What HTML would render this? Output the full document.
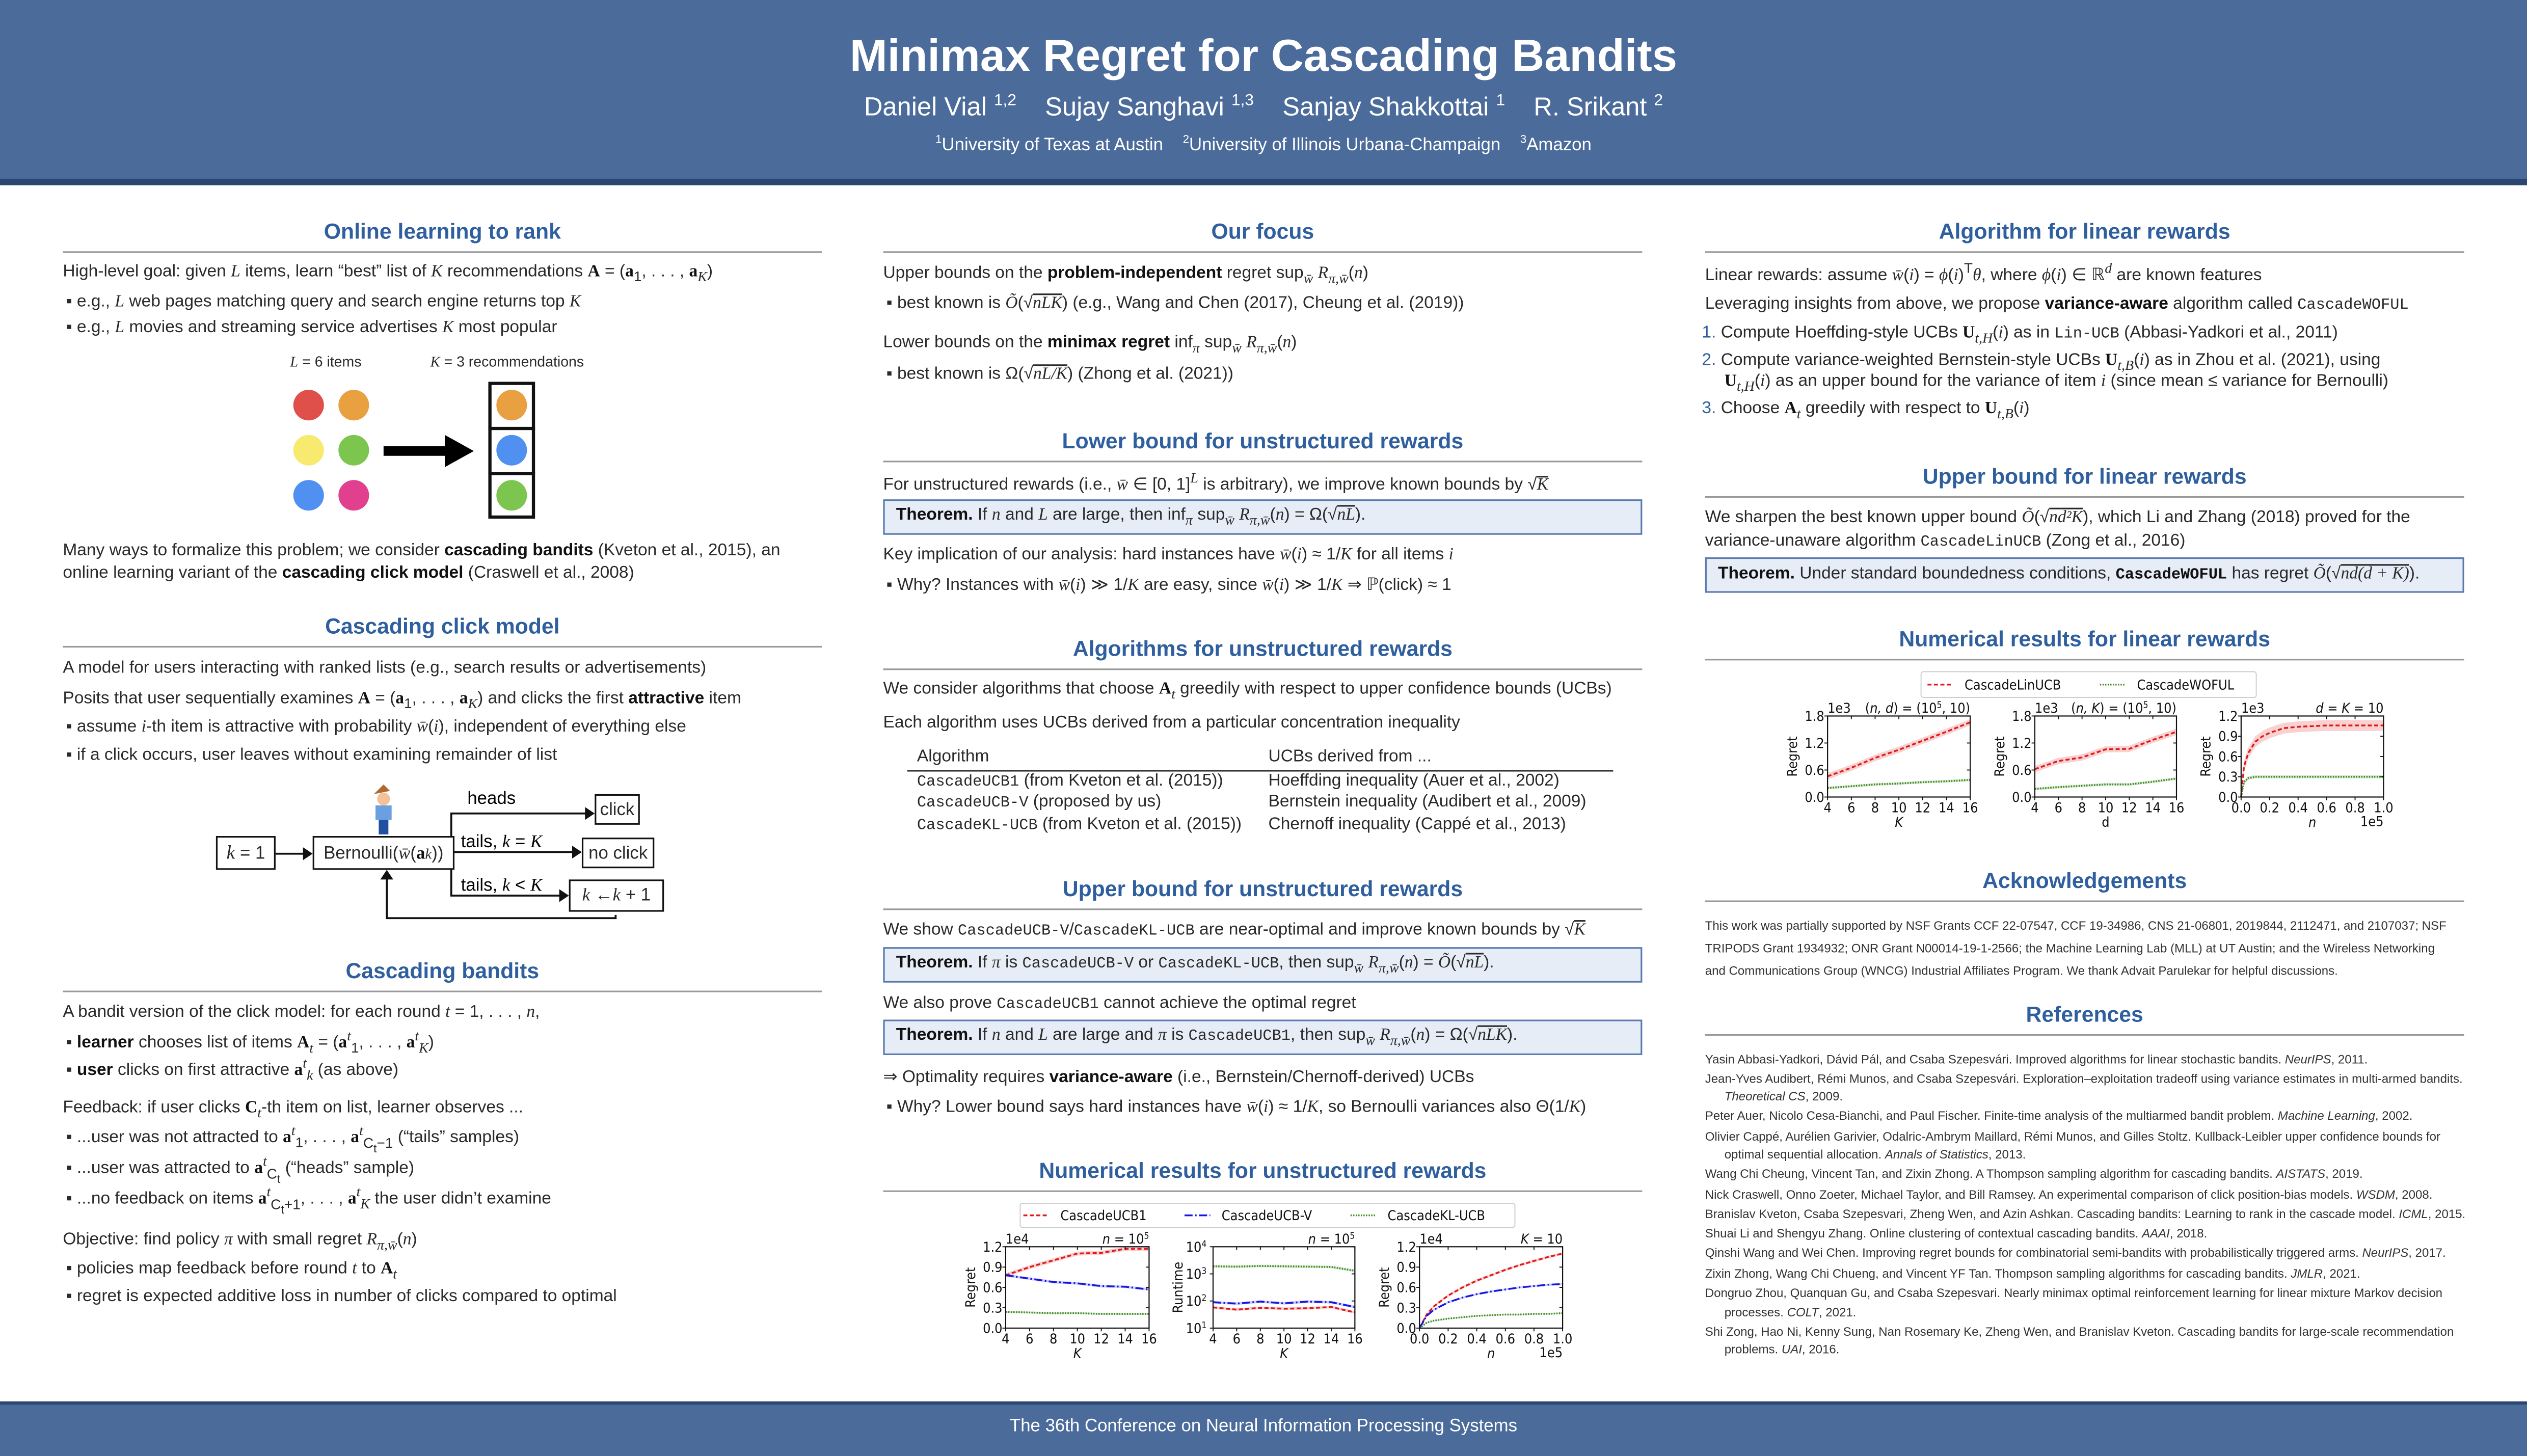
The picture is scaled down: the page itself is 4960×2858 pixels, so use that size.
<!DOCTYPE html>
<html><head><meta charset="utf-8">
<style>
html,body{margin:0;padding:0;width:4960px;height:2852px;overflow:hidden;background:#fff}
#poster{position:absolute;left:0;top:0;width:1568px;height:902px;transform:scale(3.16327,3.16186);transform-origin:0 0;background:#fff;font-family:"Liberation Sans","DejaVu Sans",sans-serif;color:#2a2a2a}
.t{position:absolute;white-space:nowrap;line-height:1;transform:translateY(-50%);font-size:10.6px}
.h{position:absolute;font-weight:bold;color:#2f5f9e;font-size:13.5px;text-align:center;line-height:1;transform:translateY(-50%)}
.rule{position:absolute;height:1px;background:#999}
.m{font-family:"Liberation Serif",serif;font-style:italic}
.mr{font-family:"Liberation Serif",serif}
.tt{font-family:"Liberation Mono",monospace;font-size:9.6px}
b{font-weight:bold;color:#111}
.box{position:absolute;background:#e7edf7;border:1px solid #5a7bb0;box-sizing:border-box}
.sm{font-size:7.6px;color:#333}
.circ{position:absolute;width:19px;height:19px;border-radius:50%}
.db{position:absolute;border:1.3px solid #111;box-sizing:border-box;background:#fff;font-size:11px;display:flex;align-items:center;justify-content:center;white-space:nowrap}
</style></head><body>
<div id="poster">
<!-- header -->
<div style="position:absolute;left:0;top:0;width:1568px;height:112px;background:#4b6b9b"></div>
<div style="position:absolute;left:0;top:111px;width:1568px;height:4px;background:#2c4672"></div>
<div class="t" style="left:0;width:1568px;text-align:center;top:35px;font-size:28px;font-weight:bold;color:#fff">Minimax Regret for Cascading Bandits</div>
<div class="t" style="left:0;width:1568px;text-align:center;top:67px;font-size:16px;color:#fff">Daniel Vial <sup style="font-size:10px">1,2</sup> &nbsp;&nbsp; Sujay Sanghavi <sup style="font-size:10px">1,3</sup> &nbsp;&nbsp; Sanjay Shakkottai <sup style="font-size:10px">1</sup> &nbsp;&nbsp; R. Srikant <sup style="font-size:10px">2</sup></div>
<div class="t" style="left:0;width:1568px;text-align:center;top:90px;font-size:11px;color:#fff"><sup style="font-size:7px">1</sup>University of Texas at Austin &nbsp;&nbsp; <sup style="font-size:7px">2</sup>University of Illinois Urbana-Champaign &nbsp;&nbsp; <sup style="font-size:7px">3</sup>Amazon</div>
<!-- footer -->
<div style="position:absolute;left:0;top:870px;width:1568px;height:32px;background:#4b6b9b;border-top:2px solid #2c4672"></div>
<div class="t" style="left:0;width:1568px;text-align:center;top:886px;font-size:11px;color:#fff">The 36th Conference on Neural Information Processing Systems</div>

<!-- LEFT COLUMN -->
<div class="h" style="left:39px;width:471px;top:144px">Online learning to rank</div>
<div class="rule" style="left:39px;width:471px;top:156px"></div>
<div class="t" style="left:39px;top:170px">High-level goal: given <span class="m">L</span> items, learn “best” list of <span class="m">K</span> recommendations <b class="mr">A</b> = (<b class="mr">a</b><sub>1</sub>, . . . , <b class="mr">a</b><sub class="m">K</sub>)</div>
<div class="t" style="left:41px;top:188px">▪ e.g., <span class="m">L</span> web pages matching query and search engine returns top <span class="m">K</span></div>
<div class="t" style="left:41px;top:204px">▪ e.g., <span class="m">L</span> movies and streaming service advertises <span class="m">K</span> most popular</div>
<div class="t" style="left:180px;top:225px;font-size:9px"><span class="m">L</span> = 6 items</div>
<div class="t" style="left:267px;top:225px;font-size:9px"><span class="m">K</span> = 3 recommendations</div>
<div class="circ" style="left:182px;top:242px;background:#e0504a"></div>
<div class="circ" style="left:210px;top:242px;background:#e8a040"></div>
<div class="circ" style="left:182px;top:270px;background:#f7ea6e"></div>
<div class="circ" style="left:210px;top:270px;background:#7cc650"></div>
<div class="circ" style="left:182px;top:298px;background:#5090f0"></div>
<div class="circ" style="left:210px;top:298px;background:#e0408e"></div>
<svg style="position:absolute;left:236px;top:268px" width="60" height="24"><line x1="2" y1="12" x2="42" y2="12" stroke="#000" stroke-width="6"/><polygon points="40,2 58,12 40,22" fill="#000"/></svg>
<div style="position:absolute;left:303px;top:237px;width:29px;height:85px;border:2px solid #111;box-sizing:border-box"></div>
<div class="rule" style="left:303px;width:29px;top:265px;background:#111;height:2px"></div>
<div class="rule" style="left:303px;width:29px;top:293px;background:#111;height:2px"></div>
<div class="circ" style="left:308px;top:242px;background:#e8a040"></div>
<div class="circ" style="left:308px;top:270px;background:#5090f0"></div>
<div class="circ" style="left:308px;top:298px;background:#7cc650"></div>
<div class="t" style="left:39px;top:342px">Many ways to formalize this problem; we consider <b>cascading bandits</b> (Kveton et al., 2015), an</div>
<div class="t" style="left:39px;top:356px">online learning variant of the <b>cascading click model</b> (Craswell et al., 2008)</div>

<div class="h" style="left:39px;width:471px;top:389px">Cascading click model</div>
<div class="rule" style="left:39px;width:471px;top:401px"></div>
<div class="t" style="left:39px;top:415px">A model for users interacting with ranked lists (e.g., search results or advertisements)</div>
<div class="t" style="left:39px;top:435px">Posits that user sequentially examines <b class="mr">A</b> = (<b class="mr">a</b><sub>1</sub>, . . . , <b class="mr">a</b><sub class="m">K</sub>) and clicks the first <b>attractive</b> item</div>
<div class="t" style="left:41px;top:452px">▪ assume <span class="m">i</span>-th item is attractive with probability <span class="m">w̄</span>(<span class="m">i</span>), independent of everything else</div>
<div class="t" style="left:41px;top:469px">▪ if a click occurs, user leaves without examining remainder of list</div>
<!-- diagram -->
<svg style="position:absolute;left:120px;top:480px" width="310" height="100">
<g stroke="#111" stroke-width="1.2" fill="none">
<line x1="51" y1="50" x2="72" y2="50"/><line x1="160" y1="49" x2="238" y2="49"/>
<polyline points="160,39 160,25 244,25"/><polyline points="160,60 160,76 230,76"/>
<polyline points="262,88 262,90 120,90 120,63"/>
</g>
<g fill="#111"><polygon points="74,50 68,46 68,54"/><polygon points="241,49 235,45 235,53"/><polygon points="249,25 243,21 243,29"/><polygon points="233,76 227,72 227,80"/><polygon points="120,60 116,66 124,66"/></g>
<g><circle cx="118" cy="16" r="4" fill="#f3c29a"/><rect x="113" y="20" width="10" height="9" fill="#6aa0e0"/><rect x="115" y="29" width="6" height="9" fill="#2050a0"/><path d="M112 13 l6 -6 l4 4z" fill="#b06a30"/></g>
<text x="170" y="19" font-size="11" font-family="Liberation Sans">heads</text>
<text x="166" y="46" font-size="11" font-family="Liberation Sans">tails, <tspan font-family="Liberation Serif" font-style="italic">k</tspan> = <tspan font-family="Liberation Serif" font-style="italic">K</tspan></text>
<text x="166" y="73" font-size="11" font-family="Liberation Sans">tails, <tspan font-family="Liberation Serif" font-style="italic">k</tspan> &lt; <tspan font-family="Liberation Serif" font-style="italic">K</tspan></text>
</svg>
<div class="db" style="left:134px;top:519px;width:37px;height:21px"><span class="m" style="font-size:12px">k</span>&nbsp;= 1</div>
<div class="db" style="left:194px;top:519px;width:88px;height:21px">Bernoulli(<span class="m">w̄</span>(<b class="mr">a</b><sub class="m">k</sub>))</div>
<div class="db" style="left:369px;top:493px;width:28px;height:19px">click</div>
<div class="db" style="left:361px;top:520px;width:45px;height:19px">no click</div>
<div class="db" style="left:353px;top:546px;width:59px;height:20px"><span class="m">k</span>&nbsp;← <span class="m">k</span>&nbsp;+ 1</div>

<div class="h" style="left:39px;width:471px;top:603px">Cascading bandits</div>
<div class="rule" style="left:39px;width:471px;top:615px"></div>
<div class="t" style="left:39px;top:629px">A bandit version of the click model: for each round <span class="m">t</span> = 1, . . . , <span class="m">n</span>,</div>
<div class="t" style="left:41px;top:647px">▪ <b>learner</b> chooses list of items <b class="mr">A</b><sub class="m">t</sub> = (<b class="mr">a</b><sup class="m">t</sup><sub>1</sub>, . . . , <b class="mr">a</b><sup class="m">t</sup><sub class="m">K</sub>)</div>
<div class="t" style="left:41px;top:664px">▪ <b>user</b> clicks on first attractive <b class="mr">a</b><sup class="m">t</sup><sub class="m">k</sub> (as above)</div>
<div class="t" style="left:39px;top:689px">Feedback: if user clicks <b class="mr">C</b><sub class="m">t</sub>-th item on list, learner observes ...</div>
<div class="t" style="left:41px;top:707px">▪ ...user was not attracted to <b class="mr">a</b><sup class="m">t</sup><sub>1</sub>, . . . , <b class="mr">a</b><sup class="m">t</sup><sub>C<sub>t</sub>−1</sub> (“tails” samples)</div>
<div class="t" style="left:41px;top:726px">▪ ...user was attracted to <b class="mr">a</b><sup class="m">t</sup><sub>C<sub>t</sub></sub> (“heads” sample)</div>
<div class="t" style="left:41px;top:745px">▪ ...no feedback on items <b class="mr">a</b><sup class="m">t</sup><sub>C<sub>t</sub>+1</sub>, . . . , <b class="mr">a</b><sup class="m">t</sup><sub class="m">K</sub> the user didn’t examine</div>
<div class="t" style="left:39px;top:771px">Objective: find policy <span class="m">π</span> with small regret <span class="m">R</span><sub class="m">π,w̄</sub>(<span class="m">n</span>)</div>
<div class="t" style="left:41px;top:789px">▪ policies map feedback before round <span class="m">t</span> to <b class="mr">A</b><sub class="m">t</sub></div>
<div class="t" style="left:41px;top:805px">▪ regret is expected additive loss in number of clicks compared to optimal</div>

<!-- MIDDLE COLUMN -->
<div class="h" style="left:548px;width:471px;top:144px">Our focus</div>
<div class="rule" style="left:548px;width:471px;top:156px"></div>
<div class="t" style="left:548px;top:171px">Upper bounds on the <b>problem-independent</b> regret sup<sub class="m">w̄</sub> <span class="m">R</span><sub class="m">π,w̄</sub>(<span class="m">n</span>)</div>
<div class="t" style="left:550px;top:189px">▪ best known is <span class="m">Õ</span>(√<span class="m" style="text-decoration:overline">nLK</span>) (e.g., Wang and Chen (2017), Cheung et al. (2019))</div>
<div class="t" style="left:548px;top:214px">Lower bounds on the <b>minimax regret</b> inf<sub class="m">π</sub> sup<sub class="m">w̄</sub> <span class="m">R</span><sub class="m">π,w̄</sub>(<span class="m">n</span>)</div>
<div class="t" style="left:550px;top:233px">▪ best known is Ω(√<span class="m" style="text-decoration:overline">nL/K</span>) (Zhong et al. (2021))</div>

<div class="h" style="left:548px;width:471px;top:274px">Lower bound for unstructured rewards</div>
<div class="rule" style="left:548px;width:471px;top:286px"></div>
<div class="t" style="left:548px;top:300px">For unstructured rewards (i.e., <span class="m">w̄</span> ∈ [0, 1]<sup class="m">L</sup> is arbitrary), we improve known bounds by √<span class="m" style="text-decoration:overline">K</span></div>
<div class="box" style="left:548px;top:310px;width:471px;height:22px"></div>
<div class="t" style="left:556px;top:321px"><b>Theorem.</b> If <span class="m">n</span> and <span class="m">L</span> are large, then inf<sub class="m">π</sub> sup<sub class="m">w̄</sub> <span class="m">R</span><sub class="m">π,w̄</sub>(<span class="m">n</span>) = Ω(√<span class="m" style="text-decoration:overline">nL</span>).</div>
<div class="t" style="left:548px;top:345px">Key implication of our analysis: hard instances have <span class="m">w̄</span>(<span class="m">i</span>) ≈ 1/<span class="m">K</span> for all items <span class="m">i</span></div>
<div class="t" style="left:550px;top:364px">▪ Why? Instances with <span class="m">w̄</span>(<span class="m">i</span>) ≫ 1/<span class="m">K</span> are easy, since <span class="m">w̄</span>(<span class="m">i</span>) ≫ 1/<span class="m">K</span> ⇒ ℙ(click) ≈ 1</div>

<div class="h" style="left:548px;width:471px;top:403px">Algorithms for unstructured rewards</div>
<div class="rule" style="left:548px;width:471px;top:415px"></div>
<div class="t" style="left:548px;top:429px">We consider algorithms that choose <b class="mr">A</b><sub class="m">t</sub> greedily with respect to upper confidence bounds (UCBs)</div>
<div class="t" style="left:548px;top:449px">Each algorithm uses UCBs derived from a particular concentration inequality</div>
<div class="t" style="left:569px;top:470px">Algorithm</div>
<div class="t" style="left:787px;top:470px">UCBs derived from ...</div>
<div class="rule" style="left:563px;width:438px;top:478px;background:#333"></div>
<div class="t" style="left:569px;top:485px"><span class="tt">CascadeUCB1</span> (from Kveton et al. (2015))</div>
<div class="t" style="left:787px;top:485px">Hoeffding inequality (Auer et al., 2002)</div>
<div class="t" style="left:569px;top:498px"><span class="tt">CascadeUCB-V</span> (proposed by us)</div>
<div class="t" style="left:787px;top:498px">Bernstein inequality (Audibert et al., 2009)</div>
<div class="t" style="left:569px;top:512px"><span class="tt">CascadeKL-UCB</span> (from Kveton et al. (2015))</div>
<div class="t" style="left:787px;top:512px">Chernoff inequality (Cappé et al., 2013)</div>

<div class="h" style="left:548px;width:471px;top:552px">Upper bound for unstructured rewards</div>
<div class="rule" style="left:548px;width:471px;top:564px"></div>
<div class="t" style="left:548px;top:578px">We show <span class="tt">CascadeUCB-V</span>/<span class="tt">CascadeKL-UCB</span> are near-optimal and improve known bounds by √<span class="m" style="text-decoration:overline">K</span></div>
<div class="box" style="left:548px;top:588px;width:471px;height:22px"></div>
<div class="t" style="left:556px;top:599px"><b>Theorem.</b> If <span class="m">π</span> is <span class="tt">CascadeUCB-V</span> or <span class="tt">CascadeKL-UCB</span>, then sup<sub class="m">w̄</sub> <span class="m">R</span><sub class="m">π,w̄</sub>(<span class="m">n</span>) = <span class="m">Õ</span>(√<span class="m" style="text-decoration:overline">nL</span>).</div>
<div class="t" style="left:548px;top:623px">We also prove <span class="tt">CascadeUCB1</span> cannot achieve the optimal regret</div>
<div class="box" style="left:548px;top:633px;width:471px;height:22px"></div>
<div class="t" style="left:556px;top:644px"><b>Theorem.</b> If <span class="m">n</span> and <span class="m">L</span> are large and <span class="m">π</span> is <span class="tt">CascadeUCB1</span>, then sup<sub class="m">w̄</sub> <span class="m">R</span><sub class="m">π,w̄</sub>(<span class="m">n</span>) = Ω(√<span class="m" style="text-decoration:overline">nLK</span>).</div>
<div class="t" style="left:548px;top:669px">⇒ Optimality requires <b>variance-aware</b> (i.e., Bernstein/Chernoff-derived) UCBs</div>
<div class="t" style="left:550px;top:688px">▪ Why? Lower bound says hard instances have <span class="m">w̄</span>(<span class="m">i</span>) ≈ 1/<span class="m">K</span>, so Bernoulli variances also Θ(1/<span class="m">K</span>)</div>

<div class="h" style="left:548px;width:471px;top:727px">Numerical results for unstructured rewards</div>
<div class="rule" style="left:548px;width:471px;top:739px"></div>

<!-- RIGHT COLUMN -->
<div class="h" style="left:1058px;width:471px;top:144px">Algorithm for linear rewards</div>
<div class="rule" style="left:1058px;width:471px;top:156px"></div>
<div class="t" style="left:1058px;top:170px">Linear rewards: assume <span class="m">w̄</span>(<span class="m">i</span>) = <span class="m">ϕ</span>(<span class="m">i</span>)<sup>T</sup><span class="m">θ</span>, where <span class="m">ϕ</span>(<span class="m">i</span>) ∈ ℝ<sup class="m">d</sup> are known features</div>
<div class="t" style="left:1058px;top:189px">Leveraging insights from above, we propose <b>variance-aware</b> algorithm called <span class="tt">CascadeWOFUL</span></div>
<div class="t" style="left:1056px;top:208px"><span style="color:#2f5f9e">1.</span> Compute Hoeffding-style UCBs <b class="mr">U</b><sub class="m">t,H</sub>(<span class="m">i</span>) as in <span class="tt">Lin-UCB</span> (Abbasi-Yadkori et al., 2011)</div>
<div class="t" style="left:1056px;top:225px"><span style="color:#2f5f9e">2.</span> Compute variance-weighted Bernstein-style UCBs <b class="mr">U</b><sub class="m">t,B</sub>(<span class="m">i</span>) as in Zhou et al. (2021), using</div>
<div class="t" style="left:1070px;top:238px"><b class="mr">U</b><sub class="m">t,H</sub>(<span class="m">i</span>) as an upper bound for the variance of item <span class="m">i</span> (since mean ≤ variance for Bernoulli)</div>
<div class="t" style="left:1056px;top:255px"><span style="color:#2f5f9e">3.</span> Choose <b class="mr">A</b><sub class="m">t</sub> greedily with respect to <b class="mr">U</b><sub class="m">t,B</sub>(<span class="m">i</span>)</div>

<div class="h" style="left:1058px;width:471px;top:296px">Upper bound for linear rewards</div>
<div class="rule" style="left:1058px;width:471px;top:308px"></div>
<div class="t" style="left:1058px;top:322px">We sharpen the best known upper bound <span class="m">Õ</span>(√<span class="m" style="text-decoration:overline">nd²K</span>), which Li and Zhang (2018) proved for the</div>
<div class="t" style="left:1058px;top:336px">variance-unaware algorithm <span class="tt">CascadeLinUCB</span> (Zong et al., 2016)</div>
<div class="box" style="left:1058px;top:346px;width:471px;height:22px"></div>
<div class="t" style="left:1066px;top:357px"><b>Theorem.</b> Under standard boundedness conditions, <b class="tt">CascadeWOFUL</b> has regret <span class="m">Õ</span>(√<span class="m" style="text-decoration:overline">nd(d + K)</span>).</div>

<div class="h" style="left:1058px;width:471px;top:397px">Numerical results for linear rewards</div>
<div class="rule" style="left:1058px;width:471px;top:409px"></div>

<div class="h" style="left:1058px;width:471px;top:547px">Acknowledgements</div>
<div class="rule" style="left:1058px;width:471px;top:559px"></div>
<div class="t sm" style="left:1058px;top:575px">This work was partially supported by NSF Grants CCF 22-07547, CCF 19-34986, CNS 21-06801, 2019844, 2112471, and 2107037; NSF</div>
<div class="t sm" style="left:1058px;top:589px">TRIPODS Grant 1934932; ONR Grant N00014-19-1-2566; the Machine Learning Lab (MLL) at UT Austin; and the Wireless Networking</div>
<div class="t sm" style="left:1058px;top:603px">and Communications Group (WNCG) Industrial Affiliates Program. We thank Advait Parulekar for helpful discussions.</div>

<div class="h" style="left:1058px;width:471px;top:630px">References</div>
<div class="rule" style="left:1058px;width:471px;top:642px"></div>
<div class="t sm" style="left:1058px;top:658px">Yasin Abbasi-Yadkori, Dávid Pál, and Csaba Szepesvári. Improved algorithms for linear stochastic bandits. <i>NeurIPS</i>, 2011.</div>
<div class="t sm" style="left:1058px;top:670px">Jean-Yves Audibert, Rémi Munos, and Csaba Szepesvári. Exploration–exploitation tradeoff using variance estimates in multi-armed bandits.</div>
<div class="t sm" style="left:1070px;top:681px"><i>Theoretical CS</i>, 2009.</div>
<div class="t sm" style="left:1058px;top:693px">Peter Auer, Nicolo Cesa-Bianchi, and Paul Fischer. Finite-time analysis of the multiarmed bandit problem. <i>Machine Learning</i>, 2002.</div>
<div class="t sm" style="left:1058px;top:706px">Olivier Cappé, Aurélien Garivier, Odalric-Ambrym Maillard, Rémi Munos, and Gilles Stoltz. Kullback-Leibler upper confidence bounds for</div>
<div class="t sm" style="left:1070px;top:717px">optimal sequential allocation. <i>Annals of Statistics</i>, 2013.</div>
<div class="t sm" style="left:1058px;top:729px">Wang Chi Cheung, Vincent Tan, and Zixin Zhong. A Thompson sampling algorithm for cascading bandits. <i>AISTATS</i>, 2019.</div>
<div class="t sm" style="left:1058px;top:742px">Nick Craswell, Onno Zoeter, Michael Taylor, and Bill Ramsey. An experimental comparison of click position-bias models. <i>WSDM</i>, 2008.</div>
<div class="t sm" style="left:1058px;top:754px">Branislav Kveton, Csaba Szepesvari, Zheng Wen, and Azin Ashkan. Cascading bandits: Learning to rank in the cascade model. <i>ICML</i>, 2015.</div>
<div class="t sm" style="left:1058px;top:766px">Shuai Li and Shengyu Zhang. Online clustering of contextual cascading bandits. <i>AAAI</i>, 2018.</div>
<div class="t sm" style="left:1058px;top:778px">Qinshi Wang and Wei Chen. Improving regret bounds for combinatorial semi-bandits with probabilistically triggered arms. <i>NeurIPS</i>, 2017.</div>
<div class="t sm" style="left:1058px;top:791px">Zixin Zhong, Wang Chi Chueng, and Vincent YF Tan. Thompson sampling algorithms for cascading bandits. <i>JMLR</i>, 2021.</div>
<div class="t sm" style="left:1058px;top:803px">Dongruo Zhou, Quanquan Gu, and Csaba Szepesvari. Nearly minimax optimal reinforcement learning for linear mixture Markov decision</div>
<div class="t sm" style="left:1070px;top:815px">processes. <i>COLT</i>, 2021.</div>
<div class="t sm" style="left:1058px;top:827px">Shi Zong, Hao Ni, Kenny Sung, Nan Rosemary Ke, Zheng Wen, and Branislav Kveton. Cascading bandits for large-scale recommendation</div>
<div class="t sm" style="left:1070px;top:838px">problems. <i>UAI</i>, 2016.</div>

<svg id="charts" style="position:absolute;left:0;top:0" width="1568" height="902"></svg>
</div>
<script>
// ---- data: unstructured rewards ----
const uK = [4,6,8,10,12,14,16];
const uRegUCB1 = [0.78,0.90,1.00,1.10,1.11,1.17,1.17];
const uRegUCBV = [0.78,0.73,0.68,0.66,0.62,0.61,0.57];
const uRegKL = [0.24,0.23,0.22,0.22,0.21,0.21,0.21];
const uRunUCB1 = [58,48,56,52,54,60,38];
const uRunUCBV = [90,80,95,82,95,90,60];
const uRunKL = [1900,1850,1950,1900,1850,1800,1300];
const uN = [0,0.05,0.1,0.2,0.3,0.4,0.5,0.6,0.7,0.8,0.9,1.0];
const uNUCB1 = [0,0.2,0.32,0.48,0.6,0.7,0.78,0.86,0.93,0.99,1.05,1.1];
const uNUCBV = [0,0.18,0.27,0.38,0.45,0.5,0.54,0.57,0.6,0.62,0.64,0.65];
const uNKL = [0,0.08,0.11,0.14,0.16,0.18,0.19,0.2,0.2,0.21,0.21,0.22];
const regTicks12 = [0,0.3,0.6,0.9,1.2];
const kTicks = [4,6,8,10,12,14,16];
const nTicks = [0,0.2,0.4,0.6,0.8,1.0];
const logTicks = [1,2,3,4];
// ---- data: linear rewards ----
const lK = [4,6,8,10,12,14,16];
const lKLin = [0.46,0.65,0.87,1.05,1.25,1.45,1.66];
const lKWof = [0.20,0.24,0.28,0.30,0.33,0.35,0.38];
const lD = [4,6,8,10,12,14,16];
const lDLin = [0.62,0.80,0.88,1.06,1.07,1.27,1.45];
const lDWof = [0.18,0.22,0.25,0.28,0.28,0.34,0.41];
const lN = [0,0.02,0.05,0.1,0.15,0.2,0.3,0.4,0.5,0.6,0.8,1.0];
const lNLin = [0,0.45,0.65,0.82,0.9,0.95,1.02,1.04,1.05,1.06,1.06,1.06];
const lNWof = [0,0.22,0.28,0.30,0.30,0.30,0.30,0.30,0.30,0.30,0.30,0.30];
const regTicks18 = [0,0.6,1.2,1.8];

const NS='http://www.w3.org/2000/svg';
const root=document.getElementById('charts');
function mk(tag,attrs,parent){const e=document.createElementNS(NS,tag);for(const k in attrs)e.setAttribute(k,attrs[k]);(parent||root).appendChild(e);return e;}
function txt(s,x,y,size,anchor,parent,extra){const t=mk('text',Object.assign({x:x,y:y,'font-size':size,'text-anchor':anchor||'start','font-family':'DejaVu Sans Condensed, DejaVu Sans, sans-serif','fill':'#111'},extra||{}),parent);t.textContent=s;return t;}
const COLORS={red:'#e0191b',blue:'#1515e6',green:'#3c8c22'};
const DASH={red:'2.5,1.5',blue:'5,1.5,1,1.5',green:'0.8,0.8'};
function plot(name,bx,xd,yd,xt,xtl,yt,ytl,series,logY,xlabel,ylabel,mult,title){
  const g=mk('g',{});
  
  
  const sx=v=>bx[0]+(v-xd[0])/(xd[1]-xd[0])*(bx[1]-bx[0]);
  const fy=v=>logY?Math.log10(v):v;
  const sy=v=>bx[3]-(fy(v)-yd[0])/(yd[1]-yd[0])*(bx[3]-bx[2]);
  series.forEach(s=>{
    const up=s.y.map((v,i)=>sx(s.x[i])+','+sy(logY?v*1.12:v+s.band)).join(' ');
    const dn=s.y.map((v,i)=>sx(s.x[i])+','+sy(logY?v/1.12:Math.max(0,v-s.band))).reverse().join(' ');
    const b=mk('polygon',{points:up+' '+dn,fill:COLORS[s.c],'fill-opacity':0.2,stroke:'none'},g);
    
    
    const l=mk('polyline',{points:s.y.map((v,i)=>sx(s.x[i])+','+sy(v)).join(' '),fill:'none',stroke:COLORS[s.c],'stroke-width':1.1,'stroke-dasharray':DASH[s.c]},g);
    
    
  });
  const f=mk('rect',{x:bx[0],y:bx[2],width:bx[1]-bx[0],height:bx[3]-bx[2],fill:'none',stroke:'#111','stroke-width':0.7},g);
  
  
  xt.forEach((v,i)=>{mk('line',{x1:sx(v),x2:sx(v),y1:bx[3],y2:bx[3]+2,stroke:'#111','stroke-width':0.6},g);mk('line',{x1:sx(v),x2:sx(v),y1:bx[2],y2:bx[2]+2,stroke:'#111','stroke-width':0.6},g);const t=txt(xtl[i],sx(v),bx[3]+9.5,8.5,'middle',g);});
  yt.forEach((v,i)=>{const yy=logY?sy(Math.pow(10,v)):sy(v);mk('line',{x1:bx[0]-2,x2:bx[0],y1:yy,y2:yy,stroke:'#111','stroke-width':0.6},g);mk('line',{x1:bx[1]-2,x2:bx[1],y1:yy,y2:yy,stroke:'#111','stroke-width':0.6},g);
    let t;
    if(logY){t=txt('10',bx[0]-4,yy+3,8.5,'end',g);const s=mk('tspan',{'font-size':5.5,dy:-3},t);s.textContent=ytl[i];}
    else t=txt(ytl[i],bx[0]-2,yy+3,8.5,'end',g);
    });
  const xl=txt(xlabel,(bx[0]+bx[1])/2,bx[3]+18.5,8.5,'middle',g,{'font-style':xlabel==='d'?'normal':'italic'});
  
  const yl=txt(ylabel,0,0,8.5,'middle',g,{transform:'translate('+(bx[0]-19)+','+((bx[2]+bx[3])/2)+') rotate(-90)'});
  
  if(mult){const m=txt(mult,bx[0],bx[2]-2,8.5,'start',g);}
  if(title){const tt=txt('',bx[1],bx[2]-2,8.5,'end',g);tt.innerHTML=title;}
  if(xlabel==='n'){const e=txt('1e5',bx[1],bx[3]+18,8.5,'end',g);}
}
function legend(name,x,y,w,h,items){
  const g=mk('g',{});
  
  
  mk('rect',{x:x,y:y,width:w,height:h,rx:1.5,fill:'#fff',stroke:'#ccc','stroke-width':0.6},g);
  items.forEach(it=>{
    const e=mk('g',{},g);
    
    
    mk('line',{x1:it[0],x2:it[0]+16,y1:y+h/2,y2:y+h/2,stroke:COLORS[it[2]],'stroke-width':1.1,'stroke-dasharray':DASH[it[2]]},e);
    txt(it[1],it[0]+23,y+h/2+3,8.5,'start',e);
  });
}
const idx=a=>a.map(String);
legend('legend-unstructured',633,747,307,15,[[635,'CascadeUCB1','red'],[735,'CascadeUCB-V','blue'],[838,'CascadeKL-UCB','green']]);
plot('chart-regret-vs-K',[624,713,774,824.5],[4,16],[0,1.2],kTicks,idx(kTicks),regTicks12,regTicks12.map(v=>v.toFixed(1)),
 [{n:'ucb1',x:uK,y:uRegUCB1,c:'red',band:0.03},{n:'ucbv',x:uK,y:uRegUCBV,c:'blue',band:0.02},{n:'klucb',x:uK,y:uRegKL,c:'green',band:0.015}],false,'K','Regret','1e4','<tspan font-style="italic">n</tspan> = 10<tspan font-size="5.5" dy="-3">5</tspan>');
plot('chart-runtime-vs-K',[752.7,840.7,774,824.5],[4,16],[1,4],kTicks,idx(kTicks),logTicks,idx(logTicks),
 [{n:'ucb1',x:uK,y:uRunUCB1,c:'red'},{n:'ucbv',x:uK,y:uRunUCBV,c:'blue'},{n:'klucb',x:uK,y:uRunKL,c:'green'}],true,'K','Runtime',null,'<tspan font-style="italic">n</tspan> = 10<tspan font-size="5.5" dy="-3">5</tspan>');
plot('chart-regret-vs-n',[880.8,969.6,774,824.5],[0,1],[0,1.2],nTicks,nTicks.map(v=>v.toFixed(1)),regTicks12,regTicks12.map(v=>v.toFixed(1)),
 [{n:'ucb1',x:uN,y:uNUCB1,c:'red',band:0.02},{n:'ucbv',x:uN,y:uNUCBV,c:'blue',band:0.015},{n:'klucb',x:uN,y:uNKL,c:'green',band:0.01}],false,'n','Regret','1e4','<tspan font-style="italic">K</tspan> = 10');
legend('legend-linear',1192,417,208,16,[[1196,'CascadeLinUCB','red'],[1303,'CascadeWOFUL','green']]);
plot('chart-linear-vs-K',[1134,1222.5,444.5,494.8],[4,16],[0,1.8],kTicks,idx(kTicks),regTicks18,regTicks18.map(v=>v.toFixed(1)),
 [{n:'linucb',x:lK,y:lKLin,c:'red',band:0.07},{n:'woful',x:lK,y:lKWof,c:'green',band:0.03}],false,'K','Regret','1e3','(<tspan font-style="italic">n, d</tspan>) = (10<tspan font-size="5.5" dy="-3">5</tspan><tspan dy="3">, 10)</tspan>');
plot('chart-linear-vs-d',[1262.6,1350.5,444.5,494.8],[4,16],[0,1.8],kTicks,idx(kTicks),regTicks18,regTicks18.map(v=>v.toFixed(1)),
 [{n:'linucb',x:lD,y:lDLin,c:'red',band:0.07},{n:'woful',x:lD,y:lDWof,c:'green',band:0.03}],false,'d','Regret','1e3','(<tspan font-style="italic">n, K</tspan>) = (10<tspan font-size="5.5" dy="-3">5</tspan><tspan dy="3">, 10)</tspan>');
plot('chart-linear-vs-n',[1390.6,1479,444.5,494.8],[0,1],[0,1.2],nTicks,nTicks.map(v=>v.toFixed(1)),regTicks12,regTicks12.map(v=>v.toFixed(1)),
 [{n:'linucb',x:lN,y:lNLin,c:'red',band:0.08},{n:'woful',x:lN,y:lNWof,c:'green',band:0.025}],false,'n','Regret','1e3','<tspan font-style="italic">d</tspan> = <tspan font-style="italic">K</tspan> = 10');
</script>
</body></html>
